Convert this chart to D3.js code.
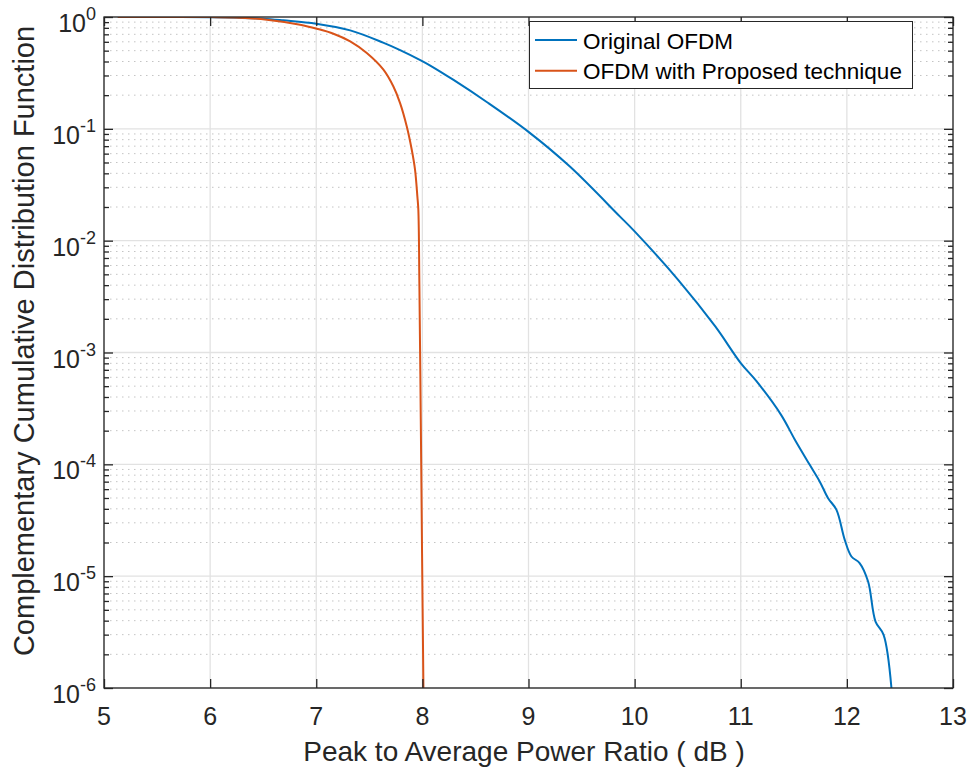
<!DOCTYPE html>
<html>
<head>
<meta charset="utf-8">
<script src="https://cdn.jsdelivr.net/npm/d3@7"></script>
<style>
  html, body { margin: 0; padding: 0; background: #fff; }
  svg { display: block; font-family: "Liberation Sans", Arial, Helvetica, sans-serif; }
</style>
</head>
<body>
<svg id="chart" width="973" height="769"></svg>
<script>
// PAPR (dB) and CCDF for the original OFDM signal
const originalPapr = [5.13, 5.5, 6.0, 6.25, 6.5, 6.69, 7.0, 7.32, 7.63, 7.79, 7.98, 8.07, 8.29, 8.61,
  9.0, 9.39, 9.86, 10.0, 10.41, 10.76, 11.0, 11.15, 11.38, 11.51, 11.65, 11.745, 11.823,
  11.902, 11.98, 12.043, 12.12, 12.2, 12.27, 12.346, 12.42];
const originalCcdf = [1.0, 0.9998, 0.995, 0.986, 0.966, 0.933, 0.871, 0.759, 0.590, 0.506, 0.412, 0.370,
  0.275, 0.173, 0.094, 0.046, 0.0165, 0.0121, 0.00447, 0.00171, 0.000804, 0.000551, 0.000277,
  0.000166, 9.9e-5, 7.0e-5, 4.98e-5, 3.92e-5, 2.11e-5, 1.5e-5, 1.31e-5, 8.95e-6, 3.93e-6,
  2.99e-6, 1.0e-6];

// PAPR (dB) and CCDF for OFDM with the proposed technique
const proposedPapr = [5.13, 5.5, 6.0, 6.22, 6.535, 6.848, 7.006, 7.162, 7.32, 7.476, 7.633, 7.727,
  7.79, 7.853, 7.9, 7.931, 7.953, 7.962, 7.972, 7.985, 7.997, 8.01];
const proposedCcdf = [1.0, 0.9998, 0.998, 0.991, 0.946, 0.853, 0.785, 0.709, 0.605, 0.476, 0.338, 0.239,
  0.170, 0.105, 0.065, 0.043, 0.0248, 0.0189, 0.0039, 2.5e-4, 1.6e-5, 1.0e-6];

const xTicks = [5, 6, 7, 8, 9, 10, 11, 12, 13];
const yExponents = [0, -1, -2, -3, -4, -5, -6];
const seriesNames = ["Original OFDM", "OFDM with Proposed technique"];
const seriesColors = ["#0072BD", "#D95319"];

const svg = d3.select("#chart");
const plotLeft = 104, plotRight = 953, plotTop = 17, plotBottom = 688;
const axisColor = "#262626";

const x = d3.scaleLinear().domain([5, 13]).range([plotLeft, plotRight]);
const y = d3.scaleLog().domain([1e-6, 1]).range([plotBottom, plotTop]);

// minor grid (dotted) at 2..9 of each decade
const minorVals = [];
for (let e = -6; e < 0; e++) for (let m = 2; m <= 9; m++) minorVals.push(m * Math.pow(10, e));

const grid = svg.append("g");
grid.selectAll("line.minor").data(minorVals).enter().append("line")
  .attr("class", "minor")
  .attr("x1", plotLeft).attr("x2", plotRight)
  .attr("y1", d => y(d)).attr("y2", d => y(d))
  .attr("stroke", "#c4c4c4").attr("stroke-width", 1)
  .attr("stroke-dasharray", "1.5,4.5");
grid.selectAll("line.majorY").data(yExponents).enter().append("line")
  .attr("class", "majorY")
  .attr("x1", plotLeft).attr("x2", plotRight)
  .attr("y1", d => y(Math.pow(10, d))).attr("y2", d => y(Math.pow(10, d)))
  .attr("stroke", "#e2e2e2").attr("stroke-width", 1.3);
grid.selectAll("line.majorX").data(xTicks).enter().append("line")
  .attr("class", "majorX")
  .attr("x1", d => x(d)).attr("x2", d => x(d))
  .attr("y1", plotTop).attr("y2", plotBottom)
  .attr("stroke", "#e2e2e2").attr("stroke-width", 1.3);

// curves
const line = d3.line().x(d => x(d[0])).y(d => y(d[1])).curve(d3.curveCatmullRom.alpha(0.5));
const seriesData = [
  d3.zip(originalPapr, originalCcdf),
  d3.zip(proposedPapr, proposedCcdf)
];
svg.append("defs").append("clipPath").attr("id", "plotClip")
  .append("rect").attr("x", plotLeft).attr("y", plotTop)
  .attr("width", plotRight - plotLeft).attr("height", plotBottom - plotTop);
svg.append("g").attr("clip-path", "url(#plotClip)")
  .selectAll("path").data(seriesData).enter().append("path")
  .attr("d", line)
  .attr("fill", "none")
  .attr("stroke", (d, i) => seriesColors[i])
  .attr("stroke-width", 2)
  .attr("stroke-linejoin", "round");

// axes: ticks inward on all four sides
const yMajor = yExponents.map(e => Math.pow(10, e));
const axes = [
  [d3.axisBottom(x).tickValues(xTicks).tickSize(-9), `translate(0,${plotBottom})`],
  [d3.axisTop(x).tickValues(xTicks).tickSize(-9), `translate(0,${plotTop})`],
  [d3.axisLeft(y).tickValues(yMajor).tickSize(-9), `translate(${plotLeft},0)`],
  [d3.axisRight(y).tickValues(yMajor).tickSize(-9), `translate(${plotRight},0)`],
  [d3.axisLeft(y).tickValues(minorVals).tickSize(-5), `translate(${plotLeft},0)`],
  [d3.axisRight(y).tickValues(minorVals).tickSize(-5), `translate(${plotRight},0)`]
];
axes.forEach(([ax, tr]) => {
  const g = svg.append("g").attr("transform", tr).call(ax.tickFormat(""));
  g.select(".domain").remove();
  g.selectAll(".tick text").remove();
  g.selectAll(".tick line").attr("stroke", axisColor).attr("stroke-width", 1.3);
});

// plot box
svg.append("rect").attr("x", plotLeft).attr("y", plotTop)
  .attr("width", plotRight - plotLeft).attr("height", plotBottom - plotTop)
  .attr("fill", "none").attr("stroke", axisColor).attr("stroke-width", 1.3);

// x tick labels
svg.append("g").selectAll("text").data(xTicks).enter().append("text")
  .attr("x", d => x(d)).attr("y", plotBottom + 37)
  .attr("text-anchor", "middle")
  .attr("font-size", 25).attr("fill", axisColor)
  .text(d => d);

// y tick labels 10^n
const yl = svg.append("g").selectAll("text").data(yExponents).enter().append("text")
  .attr("x", plotLeft - 8).attr("y", d => y(Math.pow(10, d)) + 15)
  .attr("text-anchor", "end")
  .attr("font-size", 25).attr("fill", axisColor);
yl.append("tspan").text("10");
yl.append("tspan").attr("dy", -12).attr("font-size", 18).text(d => d);

// axis titles
svg.append("text")
  .attr("x", 524).attr("y", 761)
  .attr("text-anchor", "middle").attr("font-size", 28).attr("fill", axisColor)
  .text("Peak to Average Power Ratio ( dB )");
svg.append("text")
  .attr("transform", `translate(34,341) rotate(-90)`)
  .attr("text-anchor", "middle").attr("font-size", 29).attr("fill", axisColor)
  .text("Complementary Cumulative Distribution Function");

// legend
const lg = svg.append("g");
lg.append("rect").attr("x", 529.5).attr("y", 21.5).attr("width", 383).attr("height", 67)
  .attr("fill", "#fff").attr("stroke", axisColor).attr("stroke-width", 1);
seriesNames.forEach((name, i) => {
  const cy = 40 + i * 30.7;
  lg.append("line").attr("x1", 535).attr("x2", 577).attr("y1", cy).attr("y2", cy)
    .attr("stroke", seriesColors[i]).attr("stroke-width", 2);
  lg.append("text").attr("x", 583).attr("y", cy + 8.5)
    .attr("font-size", 22.5).attr("fill", "#000").text(name);
});
</script>
</body>
</html>
